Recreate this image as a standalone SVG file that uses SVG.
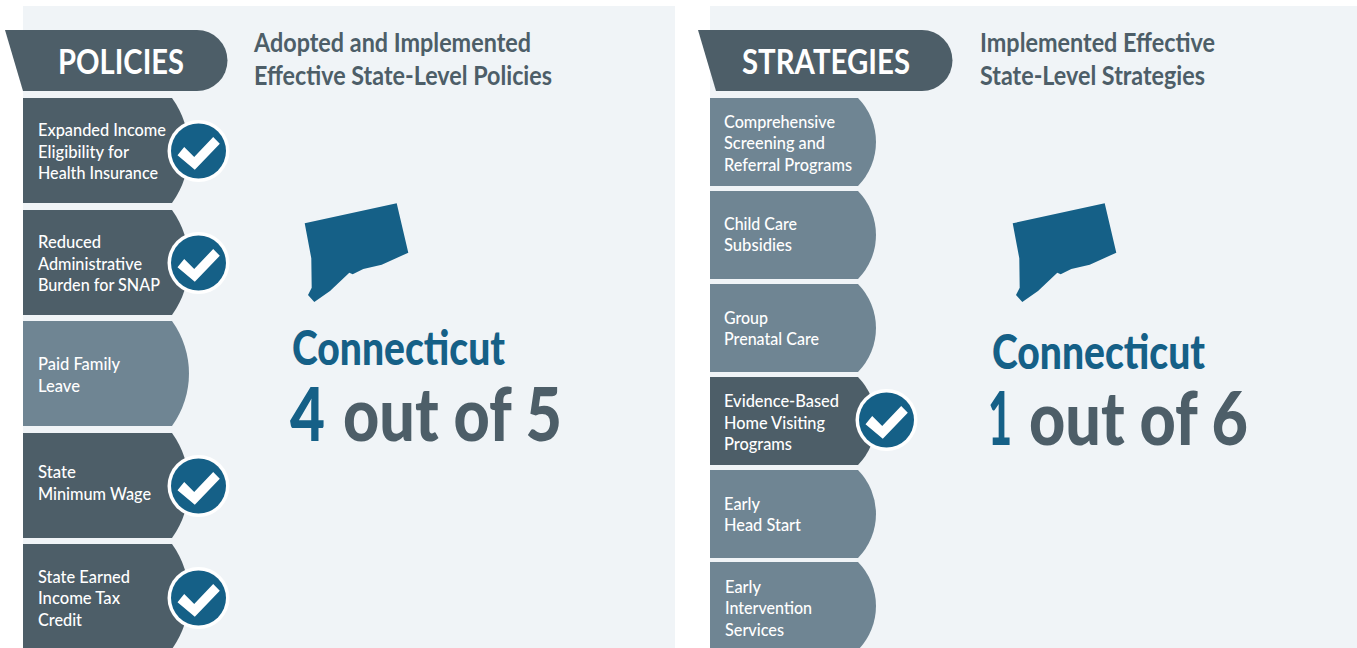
<svg xmlns="http://www.w3.org/2000/svg" width="1357" height="648" viewBox="0 0 1357 648">
<style>
text{font-family:"Lato","Liberation Sans",sans-serif}
.panel{fill:#f0f4f7}
.dark{fill:#4d5e68}
.mid{fill:#6f8593}
.hdr{fill:#fff;font-size:35px;font-weight:700}
.sub{fill:#4d5e68;font-size:27px;font-weight:700}
.lbl{fill:#fff;font-size:18px;font-weight:500}
.state{fill:#156087;font-size:47px;font-weight:900}
.score{fill:#4d5e68;font-size:74px;font-weight:900}
.hl{fill:#156087}
</style>
<defs>
<path id="state" class="hl" d="M304.7 223.3L396.7 203.3L408.3 252.7L381.7 264.7L363.3 269L352.7 274.3L349.3 272.7L330 291L314.3 302L308 295L311.7 287.7L311.3 258.3Z"/>
<g id="chk"><circle r="31" fill="#fff"/><circle r="27.5" fill="#156087"/><path fill="#fff" d="M-21 4.3L-14.3-4L-4.3 6L14.7-14L21.3-7.3L-3.7 18.7Z"/></g>
<path id="pl" d="M0 0H149A89.6 89.6 0 0 1 149 105H0Z"/>
<path id="ps" d="M0 0H148A62.8 62.8 0 0 1 148 88H0Z"/>
</defs>
<g id="panels"><rect class="panel" x="23" y="6" width="652" height="642"/><rect class="panel" x="710" y="6" width="647" height="642"/></g>
<g id="connectors"/>
<g id="policies-header"><path class="dark" d="M5 30H197A30.500 30.500 0 0 1 197 91H23Z"/><text class="hdr" x="58" y="74" textLength="126" lengthAdjust="spacingAndGlyphs">POLICIES</text></g>
<g id="policies-title"><text class="sub" x="254" y="52" textLength="277" lengthAdjust="spacingAndGlyphs">Adopted and Implemented</text><text class="sub" x="254" y="85" textLength="298" lengthAdjust="spacingAndGlyphs">Effective State-Level Policies</text></g>
<g id="p1"><use href="#pl" class="dark" x="23" y="98"/><text class="lbl" x="38" y="136" textLength="128" lengthAdjust="spacingAndGlyphs">Expanded Income</text><text class="lbl" x="38" y="158" textLength="91" lengthAdjust="spacingAndGlyphs">Eligibility for</text><text class="lbl" x="38" y="179" textLength="120" lengthAdjust="spacingAndGlyphs">Health Insurance</text><use href="#chk" x="198.500" y="151"/></g>
<g id="p2"><use href="#pl" class="dark" x="23" y="210"/><text class="lbl" x="38" y="248" textLength="63" lengthAdjust="spacingAndGlyphs">Reduced</text><text class="lbl" x="38" y="270" textLength="104" lengthAdjust="spacingAndGlyphs">Administrative</text><text class="lbl" x="38" y="291" textLength="122" lengthAdjust="spacingAndGlyphs">Burden for SNAP</text><use href="#chk" x="198.500" y="263"/></g>
<g id="p3"><use href="#pl" class="mid" x="23" y="321"/><text class="lbl" x="38" y="370" textLength="82" lengthAdjust="spacingAndGlyphs">Paid Family</text><text class="lbl" x="38" y="392" textLength="42" lengthAdjust="spacingAndGlyphs">Leave</text></g>
<g id="p4"><use href="#pl" class="dark" x="23" y="433"/><text class="lbl" x="38" y="478" textLength="38" lengthAdjust="spacingAndGlyphs">State</text><text class="lbl" x="38" y="500" textLength="113" lengthAdjust="spacingAndGlyphs">Minimum Wage</text><use href="#chk" x="198.500" y="486"/></g>
<g id="p5"><use href="#pl" class="dark" x="23" y="544"/><text class="lbl" x="38" y="583" textLength="92" lengthAdjust="spacingAndGlyphs">State Earned</text><text class="lbl" x="38" y="604" textLength="82" lengthAdjust="spacingAndGlyphs">Income Tax</text><text class="lbl" x="38" y="626" textLength="44" lengthAdjust="spacingAndGlyphs">Credit</text><use href="#chk" x="198.500" y="598"/></g>
<g id="policies-state"><use href="#state"/><text class="state" x="292" y="365" textLength="213" lengthAdjust="spacingAndGlyphs">Connecticut</text><text class="score hl" x="290" y="441" textLength="35" lengthAdjust="spacingAndGlyphs">4</text><text class="score" x="343" y="441" textLength="219" lengthAdjust="spacingAndGlyphs">out of 5</text></g>
<g id="strategies-header"><path class="dark" d="M698 30H922A30.500 30.500 0 0 1 922 91H716Z"/><text class="hdr" x="742" y="74" textLength="168" lengthAdjust="spacingAndGlyphs">STRATEGIES</text></g>
<g id="strategies-title"><text class="sub" x="980" y="52" textLength="235" lengthAdjust="spacingAndGlyphs">Implemented Effective</text><text class="sub" x="980" y="85" textLength="225" lengthAdjust="spacingAndGlyphs">State-Level Strategies</text></g>
<g id="s1"><use href="#ps" class="mid" x="710" y="98"/><text class="lbl" x="724" y="128" textLength="111" lengthAdjust="spacingAndGlyphs">Comprehensive</text><text class="lbl" x="724" y="149" textLength="101" lengthAdjust="spacingAndGlyphs">Screening and</text><text class="lbl" x="724" y="171" textLength="128" lengthAdjust="spacingAndGlyphs">Referral Programs</text></g>
<g id="s2"><use href="#ps" class="mid" x="710" y="191"/><text class="lbl" x="724" y="230" textLength="73" lengthAdjust="spacingAndGlyphs">Child Care</text><text class="lbl" x="724" y="251" textLength="68" lengthAdjust="spacingAndGlyphs">Subsidies</text></g>
<g id="s3"><use href="#ps" class="mid" x="710" y="284"/><text class="lbl" x="724" y="324" textLength="44" lengthAdjust="spacingAndGlyphs">Group</text><text class="lbl" x="724" y="345" textLength="95" lengthAdjust="spacingAndGlyphs">Prenatal Care</text></g>
<g id="s4"><use href="#ps" class="dark" x="710" y="377"/><text class="lbl" x="724" y="407" textLength="115" lengthAdjust="spacingAndGlyphs">Evidence-Based</text><text class="lbl" x="724" y="429" textLength="101" lengthAdjust="spacingAndGlyphs">Home Visiting</text><text class="lbl" x="724" y="450" textLength="68" lengthAdjust="spacingAndGlyphs">Programs</text><use href="#chk" x="886.500" y="420"/></g>
<g id="s5"><use href="#ps" class="mid" x="710" y="470"/><text class="lbl" x="724" y="510" textLength="36" lengthAdjust="spacingAndGlyphs">Early</text><text class="lbl" x="724" y="531" textLength="77" lengthAdjust="spacingAndGlyphs">Head Start</text></g>
<g id="s6"><use href="#ps" class="mid" x="710" y="562"/><text class="lbl" x="725" y="593" textLength="36" lengthAdjust="spacingAndGlyphs">Early</text><text class="lbl" x="725" y="614" textLength="87" lengthAdjust="spacingAndGlyphs">Intervention</text><text class="lbl" x="725" y="636" textLength="59" lengthAdjust="spacingAndGlyphs">Services</text></g>
<g id="strategies-state"><use href="#state" x="708"/><text class="state" x="992" y="369" textLength="213" lengthAdjust="spacingAndGlyphs">Connecticut</text><text class="score hl" x="988" y="445" textLength="24" lengthAdjust="spacingAndGlyphs">1</text><text class="score" x="1029" y="445" textLength="219" lengthAdjust="spacingAndGlyphs">out of 6</text></g>
</svg>
